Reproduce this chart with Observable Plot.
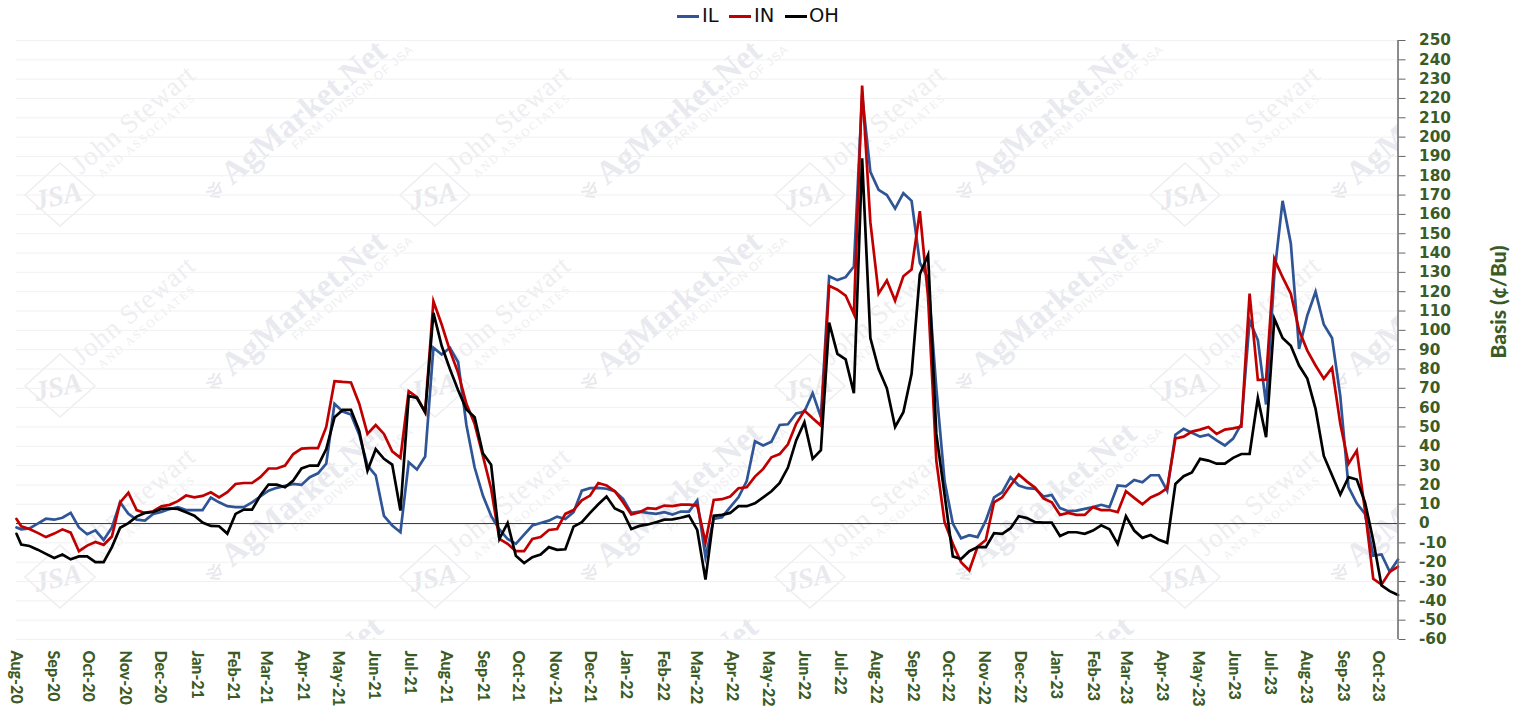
<!DOCTYPE html>
<html>
<head>
<meta charset="utf-8">
<script src="https://cdn.jsdelivr.net/npm/d3@7"></script>
<script src="https://cdn.jsdelivr.net/npm/@observablehq/plot@0.6"></script>
<style>
html,body{margin:0;padding:0;background:#fff;width:1522px;height:709px;overflow:hidden}
#wm,#chart,#legend{position:absolute;left:0;top:0}
#chart svg{background:transparent;display:block}
#legend{width:1522px;height:32px;font:19.5px "DejaVu Sans";color:#111}
#legend span{position:absolute;top:4px;line-height:24px}
#legend i{position:absolute;top:15px;height:2.5px;width:22px}
</style>
</head>
<body>
<svg id="wm" width="1522" height="709"></svg>
<div id="chart"></div>
<div id="legend"></div>
<script>
// First reading is at the start of Aug-20; the rest are weekly readings.
const firstDate = new Date(Date.UTC(2020, 7, 1));
const weeklyStart = new Date(Date.UTC(2020, 7, 5));

const IL = [-2,-3,-2.5,0,2.5,2,3,5.5,-2,-5.5,-3.5,-8.5,-2,11,5,2,1.5,5,6,7.5,8.5,7,7,7,13.5,11,9,8.5,8.5,11,14,17,18.5,19.5,20.5,20,24,26,31,62,58,56.4,46,30,25,4,-1,-4.5,31.7,28,34.7,91,87.5,91,83.5,51,29,14.5,4,-3,-8,-10.5,-5.7,-1,0.3,1.5,3.6,2.4,5.9,17,18.3,18.5,18,16.7,12.8,5.5,6.2,5.5,5,5.9,4.7,6.2,6.2,12,-17.4,2.4,3.3,8.5,13.6,22,42.6,40.4,42.4,51,51.4,57,58,67.5,55,128,126,127.5,133,222,182,172.7,170,163,171,167,135,127,70,22,0,-7.6,-6,-7,1.5,13.6,16.2,24,19.7,18.3,18,14,14.8,8,6.4,6.7,7.6,8.5,9.7,8.5,19.7,19.3,22.6,21.4,25,25,17,46,49,47,45,46,43,40.4,44,51.6,105,95,61.6,129,167,145,90.4,107.7,120,103,96,66,18.8,10.5,5,-16.6,-16,-25,-18.6];

const IN = [2.4,-1.4,-2.8,-4.8,-7,-5.2,-3,-4.7,-14.3,-11.4,-9.5,-11,-6.7,11,16,7,5.5,6.4,9,9.7,11.6,14.5,13.6,14.3,16.2,13.5,16.2,20.5,21,21,24,28.5,28.5,30,36,38.8,39,39,50,73.7,73.3,73,62,46.4,51,46.4,37.4,34,68.5,65.4,57.6,115,103,89.5,78,62,51.6,35,18,-8,-10.5,-14.3,-14.3,-8,-7,-3.3,-2.8,5,7,12,14.5,21,19.7,16.7,11,4.7,5.9,8,7.6,9.3,9,9.8,9.8,9.3,-9.7,12.2,12.6,14,18.3,18.8,24.3,28.3,34.3,36,41,51.6,58.5,54.5,50.7,123,121,118,108.5,226.7,156,119,125.8,115.4,128,131.5,161.7,117,32.6,0.7,-10.5,-20,-24.3,-12,-8.5,11,13.6,19.7,25.4,21.7,18.5,13,11,4.5,5.5,4.5,4.5,8.5,7,7,5.9,16.7,13.3,10,13.5,15.4,18.3,44,45,47.6,48.6,50,46.4,48.6,49.3,50.2,119,74.4,74.5,137,127.5,119,100,89.5,81.8,75,80.6,51.6,31,37.8,6.7,-28.6,-31.6,-25,-22.3];

const OH = [-5.3,-10.9,-11.6,-13.5,-15.7,-17.8,-16,-18.5,-17,-17,-20,-20,-12.2,-2.2,0.2,3.6,5.5,6,7.6,7.8,7.6,5.9,4.1,0.5,-1.2,-1.4,-5.2,5,7.2,7.2,14.5,20.2,20.2,18.8,22.3,28.5,30,30,38.6,55,58.8,58.8,48,27.4,38.5,33.5,30.5,6.7,66,65,57.6,109,92,80,69,59,55,36.4,30.4,-8,0.3,-16.7,-20.4,-17.4,-16,-12.2,-13.6,-13.3,-1.6,0.7,5.5,10,14,7.8,5.9,-2.8,-1.2,-0.5,0.7,2,2.2,3,4.1,-3.3,-29,4,4.5,5.5,9,9,10.5,13.6,16.7,21,29,43,52.4,33.5,38,104,87.8,85,67.5,189,96,80,70,50,57.6,77.5,129,139,46.4,15,-17,-18.3,-14.3,-12.2,-12.2,-5,-5.3,-2.4,3.8,2.8,0.7,0.5,0.5,-6.4,-4.5,-4.5,-5.3,-3.6,-0.9,-3,-10.5,3.8,-3.6,-7.4,-5.9,-8.4,-10,20.5,24.5,26.4,33.5,32.6,31,31,34,36,36,65,44.7,106,96,92,81.8,75,59.4,35,25,15,24,22.8,11,-8.8,-32,-35,-37];

const seriesNames = ["IL", "IN", "OH"];
const seriesValues = [IL, IN, OH];
const seriesColors = ["#2F5597", "#C00000", "#000000"];
const yTicks = d3.range(-60, 251, 10);
const monthTicks = d3.utcMonth.range(new Date(Date.UTC(2020, 7, 1)), new Date(Date.UTC(2023, 10, 1)));
const dates = [firstDate, ...d3.range(IL.length - 1).map(i => d3.utcDay.offset(weeklyStart, i * 7))];
const rows = seriesNames.flatMap((name, s) => seriesValues[s].map((v, i) => ({date: dates[i], value: v, name})));

const green = "#3B5B26";
const W = 1522, H = 709, ML = 16, MR = 124.5, MT = 40, MB = 70;

// watermark behind the chart
const wm = d3.select("#wm");
wm.append("clipPath").attr("id", "c").append("rect").attr("x", ML).attr("y", MT).attr("width", W - ML - MR).attr("height", H - MT - MB + 1);
const g = wm.append("g").attr("clip-path", "url(#c)");
const ink = "#EEEEF1";
const wmRows = [0, 1, 2, 3], wmCols = [0, 1, 2, 3];
wmCols.forEach(n => wmRows.forEach(m => {
  const t = g.append("g").attr("transform", `translate(${n * 375},${m * 191})`);
  if (m < 3) {
    t.append("path").attr("d", "M60,163L95,195L60,226L25,195Z").attr("fill", "none").attr("stroke", ink).attr("stroke-width", 1.5);
    t.append("text").attr("transform", "translate(60,205) rotate(-12)").attr("text-anchor", "middle").attr("fill", "#E8E9ED")
      .attr("font-family", "Liberation Serif").attr("font-style", "italic").attr("font-weight", "bold").attr("font-size", 28).text("JSA");
    t.append("text").attr("transform", "translate(81,175) rotate(-40)").attr("fill", ink)
      .attr("font-family", "Liberation Serif").attr("font-size", 27).attr("letter-spacing", 1).text("John Stewart");
    t.append("text").attr("transform", "translate(102,178) rotate(-40)").attr("fill", ink)
      .attr("font-family", "Liberation Serif").attr("font-size", 11.5).attr("letter-spacing", 2).text("AND ASSOCIATES");
    t.append("path").attr("d", "M206,192 l8,-1 l6,-9 M208,188 l5,-1 l1,-5 M212,194 l9,-2 l-2,-6 M210,196 l10,1")
      .attr("fill", "none").attr("stroke", "#E8E9ED").attr("stroke-width", 2);
    if (n < 3) t.append("text").attr("transform", "translate(296,150) rotate(-40)").attr("fill", ink)
      .attr("font-family", "Liberation Sans").attr("font-size", 12).attr("letter-spacing", 1).text("FARM DIVISION OF JSA");
  }
  const label = m < 3 ? "AgMarket.Net" : "Net";
  t.append("text").attr("transform", "translate(232,186) rotate(-40)").attr("x", m < 3 ? 0 : 150).attr("fill", "#E9E9F0")
    .attr("font-family", "Liberation Serif").attr("font-weight", "bold").attr("font-size", 33).text(label);
}));

const chart = Plot.plot({
  width: W, height: H,
  marginLeft: ML, marginRight: MR, marginTop: MT, marginBottom: MB,
  style: {background: "transparent", overflow: "visible"},
  x: {type: "utc", domain: [firstDate, dates[dates.length - 1]], label: null},
  y: {domain: [-60, 250], label: null},
  color: {domain: seriesNames, range: seriesColors},
  marks: [
    Plot.ruleY(yTicks, {stroke: "#F1F1F1", strokeWidth: 1}),
    Plot.ruleY([0], {stroke: "#333", strokeWidth: 1}),
    Plot.line(rows, {x: "date", y: "value", z: "name", stroke: "name", strokeWidth: 2.7, strokeLinejoin: "miter", strokeMiterlimit: 6}),
    Plot.axisX({
      ticks: monthTicks, tickFormat: d3.utcFormat("%b-%y"), tickRotate: 90, tickSize: 0, tickPadding: 11,
      anchor: "bottom", label: null, fill: green,
      fontFamily: "Lato", fontWeight: 900, fontSize: 16
    }),
    Plot.axisY({
      ticks: yTicks, anchor: "right", tickSize: 7, tickPadding: 14, textAnchor: "start", label: null,
      stroke: "#666", fill: green, fontFamily: "DejaVu Sans", fontWeight: 700, fontSize: 15.3,
      tickFormat: d => String(d)
    }),
    Plot.ruleX([dates[dates.length - 1]], {y1: -60, y2: 250, stroke: "#666", strokeWidth: 1.5}),
    Plot.text(["Basis (\u00A2/Bu)"], {
      frameAnchor: "right", textAnchor: "middle", rotate: -90, dx: 101, dy: -38, fill: green,
      fontFamily: "Lato", fontWeight: 900, fontSize: 21
    })
  ]
});
document.getElementById("chart").appendChild(chart);

// legend
const legend = d3.select("#legend");
const swatchX = [677, 729, 785], labelX = [702, 754, 809];
seriesNames.forEach((name, i) => {
  legend.append("i").style("left", swatchX[i] + "px").style("background", seriesColors[i]);
  legend.append("span").style("left", labelX[i] + "px").text(name);
});
</script>
</body>
</html>
